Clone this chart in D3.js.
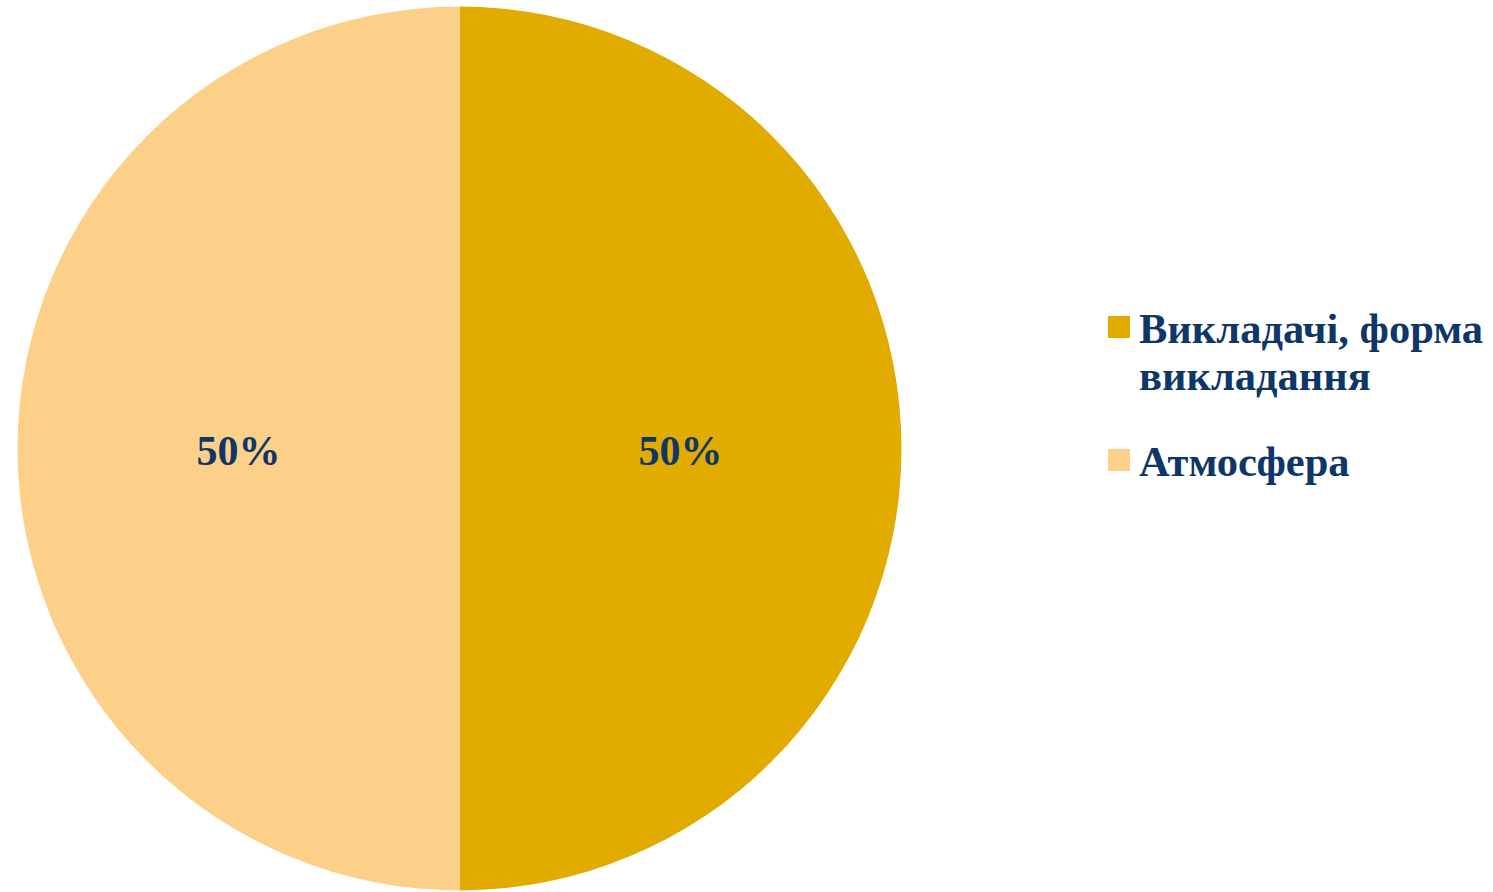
<!DOCTYPE html>
<html><head><meta charset="utf-8">
<script src="https://cdn.jsdelivr.net/npm/d3@7"></script>
<style>body{margin:0;background:#fff;}svg{display:block;}</style>
</head><body>
<svg id="chart" width="1493" height="892"></svg>
<script>
const categories = ["Викладачі, форма викладання", "Атмосфера"];
const legendLines = [["Викладачі, форма", "викладання"], ["Атмосфера"]];
const values = [50, 50];
const colors = ["#E1AB00", "#FDD089"];

const svg = d3.select("#chart");
const cx = 459.5, cy = 448.5, R = 442;
const textColor = "#0E3768";
const font = "'Liberation Serif', 'Times New Roman', serif";

const pie = d3.pie().sort(null).value(d => d.v);
const data = pie(categories.map((c, i) => ({c, v: values[i]})));
const arc = d3.arc().innerRadius(0).outerRadius(R);
const total = d3.sum(values);

const g = svg.append("g").attr("transform", `translate(${cx},${cy})`);
g.selectAll("path").data(data).join("path")
  .attr("d", arc)
  .attr("fill", (d, i) => colors[i]);

g.selectAll("text").data(data).join("text")
  .attr("x", d => arc.centroid(d)[0])
  .attr("y", d => arc.centroid(d)[1] + 16)
  .attr("text-anchor", "middle")
  .attr("font-family", font)
  .attr("font-weight", "bold")
  .attr("font-size", 42)
  .attr("fill", textColor)
  .text(d => Math.round(d.value / total * 100) + "%");

const legend = svg.append("g");
const legendY = [316, 449];
categories.forEach((c, i) => {
  const lg = legend.append("g").attr("transform", `translate(1108,${legendY[i]})`);
  lg.append("rect").attr("width", 22).attr("height", 22).attr("fill", colors[i]);
  legendLines[i].forEach((line, j) => {
    lg.append("text")
      .attr("x", 31)
      .attr("y", 27 + j * 47)
      .attr("font-family", font)
      .attr("font-weight", "bold")
      .attr("font-size", 42.5)
      .attr("fill", textColor)
      .text(line);
  });
});
</script>
</body></html>
